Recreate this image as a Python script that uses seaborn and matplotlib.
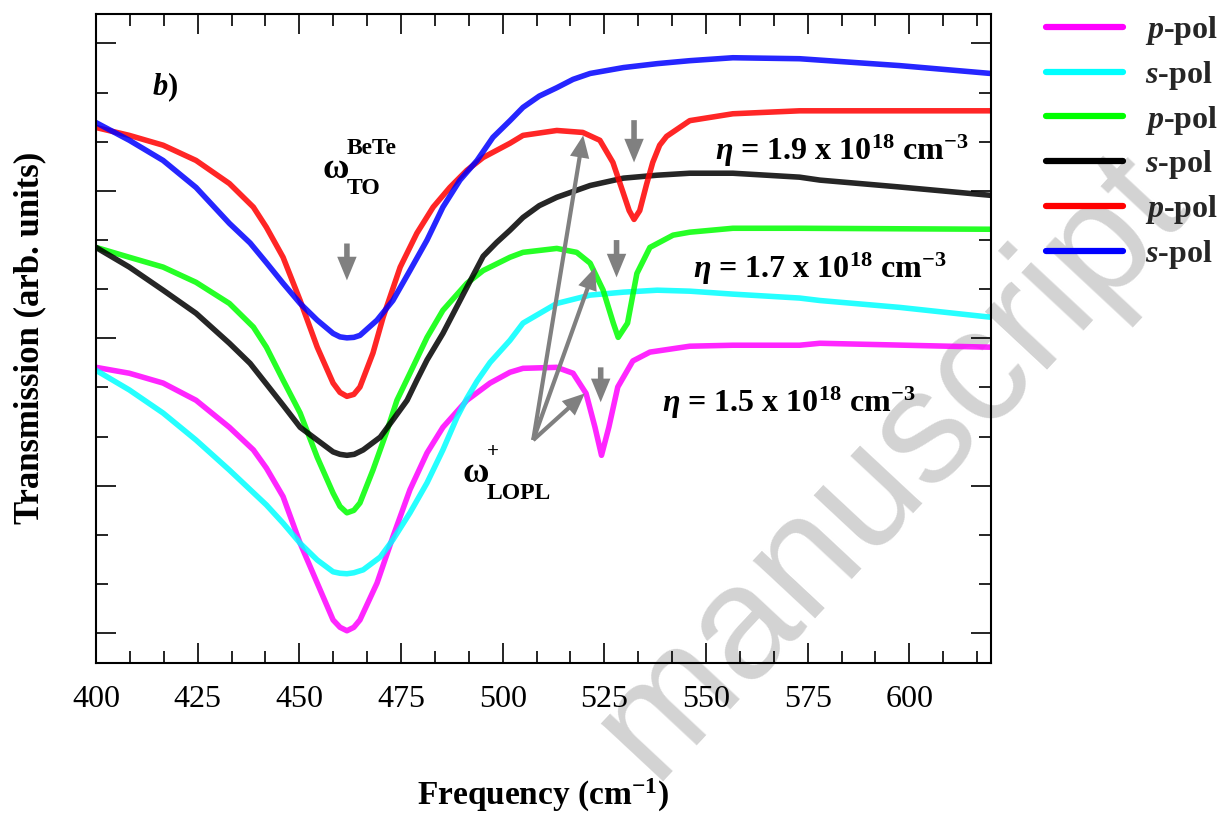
import matplotlib
matplotlib.use("Agg")
import matplotlib.pyplot as plt
import seaborn as sns
from matplotlib.ticker import MultipleLocator

# ---------------- data ----------------
freq_p15 = [400, 408.2, 416.5, 424.6, 432.8, 438.7, 441.9, 446.0, 450.2, 454.4, 458.3, 460.0, 461.7,
            463.4, 464.9, 469.1, 473.0, 477.2, 481.4, 485.3, 491.2, 496.9, 501.8, 505.0, 513.3, 517.3,
            520.5, 522.7, 524.3, 526.1, 528.3, 532.0, 536.2, 546.0, 556.6, 573.0, 578.0, 620.0]
trans_p15 = [5.41, 5.29, 5.09, 4.74, 4.19, 3.73, 3.36, 2.78, 1.83, 1.02, 0.27, 0.12, 0.05,
             0.12, 0.27, 1.02, 1.96, 2.92, 3.67, 4.19, 4.74, 5.09, 5.31, 5.39, 5.41, 5.29,
             4.88, 4.19, 3.62, 4.19, 5.01, 5.54, 5.72, 5.84, 5.86, 5.86, 5.90, 5.82]

freq_s15 = [400, 408.2, 416.5, 424.6, 432.8, 441.9, 446.0, 450.2, 454.4, 458.3, 460.0, 461.7, 463.4,
            465.7, 469.9, 473.0, 477.2, 481.4, 485.3, 488.8, 491.2, 493.7, 496.9, 501.8, 505.0, 513.3,
            521.5, 529.7, 538.0, 546.0, 556.6, 573.0, 578.0, 597.6, 620.0]
trans_s15 = [5.35, 4.95, 4.48, 3.93, 3.32, 2.61, 2.24, 1.83, 1.49, 1.25, 1.22, 1.21, 1.23,
             1.29, 1.55, 1.90, 2.45, 3.06, 3.73, 4.40, 4.78, 5.13, 5.51, 5.96, 6.31, 6.71,
             6.88, 6.94, 6.98, 6.96, 6.90, 6.82, 6.77, 6.63, 6.43]

freq_p17 = [400, 408.2, 416.5, 424.6, 432.8, 438.7, 441.9, 446.0, 450.2, 454.4, 458.3, 460.0, 461.7,
            463.4, 464.9, 468.1, 471.6, 474.0, 477.2, 481.4, 485.3, 491.2, 495.2, 501.8, 505.0, 513.3,
            518.2, 521.5, 524.7, 527.2, 528.4, 530.7, 533.0, 536.2, 541.9, 546.0, 556.6, 573.0, 620.0]
trans_p17 = [7.85, 7.65, 7.45, 7.14, 6.71, 6.23, 5.82, 5.15, 4.48, 3.58, 2.85, 2.58, 2.45,
             2.50, 2.65, 3.32, 4.13, 4.74, 5.29, 6.02, 6.57, 7.12, 7.38, 7.65, 7.75, 7.83,
             7.75, 7.53, 6.98, 6.31, 6.02, 6.31, 7.32, 7.85, 8.10, 8.16, 8.24, 8.24, 8.22]

freq_s17 = [400, 408.2, 416.5, 424.6, 432.8, 437.9, 442.1, 446.0, 450.2, 454.4, 458.3, 460.0, 461.7,
            463.5, 465.7, 469.9, 473.0, 476.5, 478.9, 481.4, 485.3, 491.2, 495.2, 498.5, 501.8, 505.0,
            509.0, 513.3, 521.5, 529.7, 538.0, 546.0, 556.6, 573.0, 578.0, 597.6, 620.0]
trans_s17 = [7.85, 7.45, 6.98, 6.51, 5.90, 5.49, 5.05, 4.64, 4.19, 3.93, 3.69, 3.64, 3.62,
             3.64, 3.73, 3.99, 4.34, 4.74, 5.15, 5.56, 6.10, 7.04, 7.67, 7.95, 8.20, 8.46,
             8.70, 8.87, 9.11, 9.26, 9.32, 9.36, 9.36, 9.28, 9.22, 9.08, 8.91]

freq_p19 = [400, 408.2, 416.5, 424.6, 432.8, 438.7, 441.9, 446.0, 450.2, 454.4, 458.3, 460.0, 461.7,
            463.4, 464.9, 468.1, 470.6, 474.8, 478.9, 482.9, 487.0, 491.2, 495.2, 501.8, 505.0, 513.3,
            519.7, 523.9, 527.1, 529.6, 531.1, 532.3, 533.7, 535.4, 536.9, 538.6, 540.3, 546.0, 556.6,
            573.0, 620.0]
trans_p19 = [10.29, 10.13, 9.93, 9.62, 9.15, 8.67, 8.26, 7.65, 6.77, 5.82, 5.09, 4.90, 4.82,
             4.86, 5.01, 5.70, 6.43, 7.45, 8.14, 8.67, 9.07, 9.42, 9.68, 9.97, 10.13, 10.23,
             10.19, 10.03, 9.58, 8.97, 8.60, 8.42, 8.60, 9.14, 9.58, 9.93, 10.11, 10.43, 10.57,
             10.63, 10.63]

freq_s19 = [400, 408.2, 416.5, 424.6, 432.8, 437.9, 442.0, 446.0, 450.2, 454.4, 458.3, 460.0, 461.7,
            463.4, 464.9, 469.1, 473.0, 477.2, 481.4, 485.3, 489.5, 493.7, 497.6, 501.8, 505.0, 509.0,
            513.3, 517.3, 521.5, 529.7, 538.0, 546.0, 556.6, 573.0, 597.6, 620.0]
trans_s19 = [10.39, 10.03, 9.62, 9.07, 8.34, 7.94, 7.53, 7.12, 6.71, 6.37, 6.10, 6.03, 6.01,
             6.02, 6.06, 6.37, 6.77, 7.38, 8.00, 8.67, 9.22, 9.62, 10.09, 10.43, 10.70, 10.93,
             11.10, 11.27, 11.39, 11.51, 11.59, 11.65, 11.71, 11.69, 11.55, 11.39]

labels = ["$p$-pol", "$s$-pol", "$p$-pol", "$s$-pol", "$p$-pol", "$s$-pol"]
colors = ["#ff00ff", "#00ffff", "#00ff00", "#000000", "#ff0000", "#0000ff"]
x_ticks = [400, 425, 450, 475, 500, 525, 550, 575, 600]
density_labels = ["1.9", "1.7", "1.5"]

# ---------------- style ----------------
sns.set_theme(style="ticks")
plt.rcParams["font.family"] = ["Liberation Serif", "DejaVu Serif"]
plt.rcParams.update({
    "mathtext.fontset": "custom",
    "mathtext.rm": "Liberation Serif:bold",
    "mathtext.it": "Liberation Serif:italic:bold",
    "mathtext.bf": "Liberation Serif:bold",
})

fig = plt.figure(figsize=(12.3, 8.16), dpi=100)
fig.patch.set_facecolor("white")
ax = fig.add_axes([96 / 1230, 1 - 662.7 / 816, (990.7 - 96) / 1230, (662.7 - 14) / 816])
ax.patch.set_visible(False)

# watermark (behind everything)
fig.text(0.724, 0.43, "manuscript", rotation=47, fontsize=116, color="#d3d3d3",
         family="Liberation Sans", ha="center", va="center", zorder=-5)

series = [(freq_p15, trans_p15), (freq_s15, trans_s15), (freq_p17, trans_p17),
          (freq_s17, trans_s17), (freq_p19, trans_p19), (freq_s19, trans_s19)]
for (fx, ty), c, lab in zip(series, colors, labels):
    sns.lineplot(x=fx, y=ty, color=c, lw=4, alpha=0.85, label=lab, ax=ax,
                 sort=False, estimator=None, solid_joinstyle="round", solid_capstyle="round")

ax.set_xlim(400, 620)
ax.set_ylim(-0.6, 12.6)
ax.set_xticks(x_ticks)
ax.set_xticklabels([str(v) for v in x_ticks])
ax.xaxis.set_minor_locator(MultipleLocator(25 / 3))
ax.yaxis.set_major_locator(MultipleLocator(3))
ax.yaxis.set_minor_locator(MultipleLocator(1))
ax.tick_params(which="both", direction="in", top=True, right=True, color="black", width=1.2)
ax.tick_params(which="major", length=14.4)
ax.tick_params(which="minor", length=8.6)
ax.tick_params(axis="y", labelleft=False)
ax.tick_params(axis="x", labelsize=23, pad=16, labelcolor="black")
for sp in ax.spines.values():
    sp.set_linewidth(1.5)
    sp.set_color("black")

ax.set_xlabel("Frequency (cm$^{-1}$)", fontsize=24, weight="bold", color="black")
ax.set_ylabel("Transmission (arb. units)", fontsize=25, weight="bold", color="black")
ax.xaxis.set_label_coords(0.5, -0.176)
ax.yaxis.set_label_coords(-0.056, 0.5)

leg = ax.legend(loc="upper left", bbox_to_anchor=(1046 / 1230, 1 - 14 / 816),
                bbox_transform=fig.transFigure, frameon=False, borderpad=0,
                borderaxespad=0, handlelength=2.41, handletextpad=0.69, labelspacing=0.37,
                prop={"weight": "bold", "size": 23})
for h in leg.get_lines():
    h.set_alpha(1)
    h.set_linewidth(4.5)

# annotations
ax.text(413.8, 10.94, "$b$)", fontsize=22, weight="bold", color="black")
ax.text(455.6, 9.27, "ω", fontsize=26, weight="bold", color="black")
ax.text(461.7, 9.76, "BeTe", fontsize=17, weight="bold", color="black")
ax.text(461.7, 8.93, "TO", fontsize=17, weight="bold", color="black")
ax.text(490.2, 3.08, "ω", fontsize=26, weight="bold", color="black")
ax.text(496.1, 3.59, "+", fontsize=15, weight="bold", color="black")
ax.text(496.1, 2.73, "LOPL", fontsize=17, weight="bold", color="black")

for lab, (fx0, ty0) in zip(density_labels, [(552.1, 9.62), (546.8, 7.22), (539.2, 4.50)]):
    ax.text(fx0, ty0, r"$\eta$ = " + lab + r" x 10$^{18}$ cm$^{-3}$", fontsize=23,
            weight="bold", color="black")

gray = "#808080"
def arrow(tail, tip, w, hw, hl):
    ax.annotate("", xy=tip, xytext=tail,
                arrowprops=dict(facecolor=gray, edgecolor="none", width=w,
                                headwidth=hw, headlength=hl, shrink=0))

arrow((461.7, 7.93), (461.7, 7.18), 4, 14, 17)
arrow((532.3, 10.44), (532.3, 9.58), 4, 14, 17)
arrow((528.0, 8.00), (528.0, 7.24), 4, 14, 17)
arrow((524.1, 5.41), (524.1, 4.70), 4, 14, 17)
arrow((507.5, 3.93), (519.8, 10.13), 3, 14, 16)
arrow((507.5, 3.93), (522.7, 7.44), 3, 14, 16)
arrow((507.5, 3.93), (520.2, 4.88), 3, 14, 16)

fig.savefig("out.png", dpi=100)
